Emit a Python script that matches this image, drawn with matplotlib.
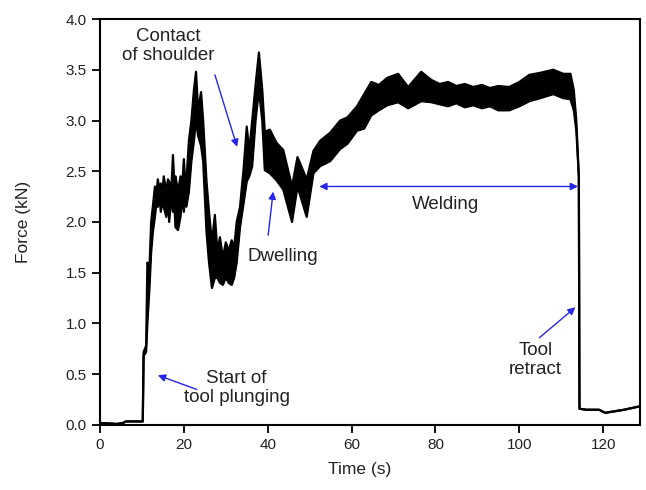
import matplotlib
matplotlib.use("Agg")
import matplotlib.pyplot as plt

plt.rcParams['font.family'] = ['Liberation Sans', 'DejaVu Sans']

# Time (s) with lower / upper envelope of the noisy force trace (kN)
time = [0, 4.0, 5.5, 6.2, 10.2, 10.4, 11.0, 11.3, 11.8, 12.2, 12.6, 13.1, 13.5, 13.8,
        14.2, 14.5, 14.9, 15.2, 15.8, 16.2, 16.5, 17.0, 17.4, 17.7, 18.0, 18.6, 19.2,
        19.6, 20.0, 20.3, 20.6, 21.2, 21.8,
        22.4, 22.9, 23.4, 24.1, 24.6, 25.4, 26.0, 26.7, 27.4, 28.0, 28.6, 29.3,
        30.0, 30.7, 31.4, 32.0, 32.6, 33.4, 34.3, 35.0, 35.6, 36.3, 37.1, 37.9,
        38.7, 39.3, 40.5, 42.1, 43.7, 45.8, 47.1, 49.3, 50.9, 52.5, 54.9, 57.3,
        59.0, 61.3, 63.0, 64.7, 66.5, 68.5, 71.1, 73.5, 76.6, 79.0, 81.0, 83.0, 85.0,
        87.0, 89.0, 91.1, 93.0, 95.0, 97.6, 100.0, 102.4, 105.0, 108.1, 110.5, 112.2,
        113.0, 113.6, 114.2, 114.35, 116.0, 119.0, 120.5, 122.0, 125.0, 128.3]
force_low = [0.02, 0.01, 0.02, 0.035, 0.035, 0.68, 0.72, 1.0, 1.35, 1.7, 1.9, 2.05, 2.2, 2.15,
             2.25, 2.1, 2.2, 2.15, 2.05, 2.2, 2.0, 2.25, 2.1, 2.2, 1.95, 1.92, 2.05,
             2.25, 2.1, 2.3, 2.15, 2.3, 2.6,
             2.8, 3.0, 2.85, 2.75, 2.6, 1.9, 1.6, 1.35, 1.45, 1.45, 1.4, 1.38,
             1.45, 1.4, 1.38, 1.45, 1.6, 1.95, 2.2, 2.4, 2.45, 2.55, 3.0, 3.3,
             3.0, 2.51, 2.48, 2.41, 2.32, 2.0, 2.35, 2.05, 2.48, 2.55, 2.6, 2.72,
             2.77, 2.9, 2.92, 3.05, 3.1, 3.15, 3.18, 3.12, 3.19, 3.18, 3.16, 3.14, 3.17,
             3.13, 3.15, 3.12, 3.14, 3.1, 3.1, 3.14, 3.19, 3.22, 3.26, 3.22, 3.21,
             3.1, 2.9, 2.45, 0.16, 0.15, 0.15, 0.12, 0.13, 0.15, 0.18]
force_high = [0.02, 0.01, 0.02, 0.035, 0.035, 0.72, 0.78, 1.6, 1.55, 2.0, 2.15, 2.35, 2.3, 2.42,
              2.3, 2.38, 2.3, 2.45, 2.3, 2.42, 2.4, 2.3, 2.66, 2.4, 2.45, 2.3, 2.45,
              2.35, 2.62, 2.4, 2.4, 2.8, 3.0,
              3.3, 3.48, 3.1, 3.28, 3.0, 2.4, 2.1, 1.8, 2.07, 1.7, 1.85, 1.65,
              1.8, 1.72, 1.82, 1.75, 2.0, 2.15, 2.55, 2.94, 2.7, 3.0, 3.35, 3.67,
              3.3, 2.89, 2.91, 2.78, 2.71, 2.35, 2.64, 2.42, 2.7, 2.8, 2.88, 3.0,
              3.03, 3.14, 3.26, 3.38, 3.35, 3.42, 3.46, 3.33, 3.48, 3.4, 3.36, 3.38, 3.34,
              3.36, 3.33, 3.35, 3.32, 3.34, 3.33, 3.38, 3.45, 3.47, 3.5, 3.46, 3.46,
              3.3, 3.0, 2.45, 0.16, 0.15, 0.15, 0.12, 0.13, 0.15, 0.18]

x_ticks = [0, 20, 40, 60, 80, 100, 120]
y_ticks = [0.0, 0.5, 1.0, 1.5, 2.0, 2.5, 3.0, 3.5, 4.0]

txt = '#222222'
fig = plt.figure(figsize=(6.46, 4.90), dpi=100)
ax = fig.add_axes([0.1548, 0.1327, 0.836, 0.8285])

ax.fill_between(time, force_low, force_high, color='black', linewidth=0)
ax.plot(time, force_low, color='black', lw=1.6)
ax.plot(time, force_high, color='black', lw=1.6)

ax.set_xlim(0, 128.8)
ax.set_ylim(0, 4.0)
ax.set_xticks(x_ticks)
ax.set_yticks(y_ticks)
ax.set_yticklabels([f"{v:.1f}" for v in y_ticks])
ax.tick_params(direction='out', length=6, width=1.3, labelsize=11, colors='black',
               labelcolor=txt)
for s in ax.spines.values():
    s.set_linewidth(1.5)

ax.set_xlabel("Time (s)", fontsize=12.5, color=txt)
ax.set_ylabel("Force (kN)", fontsize=12.5, color=txt)
ax.xaxis.set_label_coords(0.481, -0.091)
ax.yaxis.set_label_coords(-0.128, 0.50)

blue = '#2626e6'
ap = dict(arrowstyle='-|>', color=blue, lw=1.0, mutation_scale=11, shrinkA=0, shrinkB=0)
fs = 13.5

ax.text(16.3, 3.73, "Contact\nof shoulder", ha='center', va='center', fontsize=fs,
        linespacing=1.15, color=txt)
ax.annotate("", xy=(32.7, 2.74), xytext=(27.4, 3.45), arrowprops=ap)

ax.text(43.7, 1.66, "Dwelling", ha='center', va='center', fontsize=fs, color=txt)
ax.annotate("", xy=(41.3, 2.3), xytext=(40.1, 1.87), arrowprops=ap)

ax.text(32.6, 0.36, "Start of\ntool plunging", ha='center', va='center', fontsize=fs,
        linespacing=1.15, color=txt)
ax.annotate("", xy=(13.8, 0.49), xytext=(23.1, 0.35), arrowprops=ap)

ax.text(103.8, 0.64, "Tool\nretract", ha='center', va='center', fontsize=fs,
        linespacing=1.15, color=txt)
ax.annotate("", xy=(113.4, 1.16), xytext=(104.8, 0.86), arrowprops=ap)

ax.text(82.3, 2.17, "Welding", ha='center', va='center', fontsize=fs, color=txt)
ax.annotate("", xy=(114.0, 2.35), xytext=(52.3, 2.35),
            arrowprops=dict(arrowstyle='<|-|>', color=blue, lw=1.0, mutation_scale=11,
                            shrinkA=0, shrinkB=0))

fig.savefig("out.png", dpi=100)
